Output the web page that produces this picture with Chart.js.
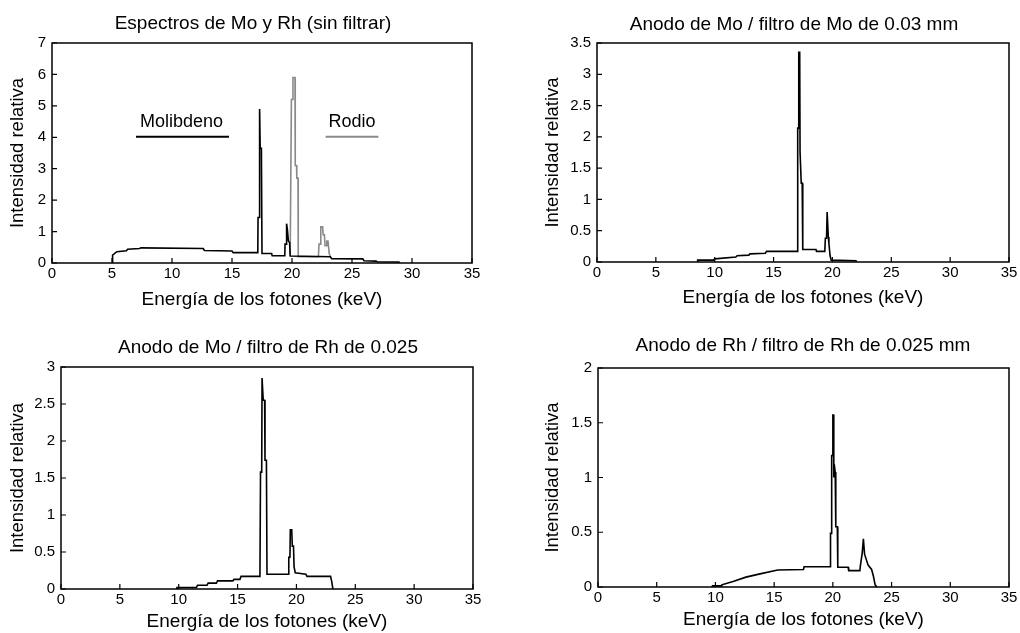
<!DOCTYPE html>
<html lang="es">
<head>
<meta charset="utf-8">
<title>Espectros de Mo y Rh</title>
<script src="https://cdn.jsdelivr.net/npm/chart.js@4.4.1/dist/chart.umd.min.js"></script>
<style>
  html, body { margin: 0; padding: 0; background: #fff; }
  body { width: 1020px; height: 633px; overflow: hidden; position: relative; }
  canvas { position: absolute; }
</style>
</head>
<body>
<canvas id="g-sin-filtro" width="506" height="316" style="left:0;top:0"></canvas>
<canvas id="g-mo-mo" width="508" height="316" style="left:540px;top:0"></canvas>
<canvas id="g-mo-rh" width="536" height="317" style="left:0;top:316px"></canvas>
<canvas id="g-rh-rh" width="526" height="317" style="left:540px;top:316px"></canvas>
<script>
// Datos (energía en keV, intensidad relativa)
const ticksEnergia = [0, 5, 10, 15, 20, 25, 30, 35];

// Espectros sin filtrar
const energiaMo = [5, 5.05, 5.4, 6.2, 6.3, 7.3, 7.4, 12.6, 12.7, 15.0, 15.1, 17.15, 17.17, 17.25, 17.27, 17.33, 17.35, 17.45, 17.5, 18.3, 18.35, 19.4, 19.42, 19.5, 19.52, 19.58, 19.62, 19.7, 19.8, 19.85, 23.2, 23.3, 25.9, 26.0, 27.0, 27.1, 28.9, 29];
const intensidadMo = [0, 0.25, 0.36, 0.39, 0.44, 0.46, 0.48, 0.46, 0.4, 0.38, 0.33, 0.33, 1.45, 1.45, 4.9, 4.9, 3.65, 3.65, 0.3, 0.3, 0.23, 0.23, 0.6, 0.6, 1.25, 1.25, 1.05, 0.7, 0.65, 0.22, 0.2, 0.14, 0.13, 0.07, 0.06, 0.04, 0.03, 0];
const energiaRh = [19.85, 19.9, 19.95, 20.05, 20.08, 20.25, 20.27, 20.38, 20.4, 20.5, 20.52, 22.2, 22.25, 22.35, 22.4, 22.55, 22.6, 22.7, 22.75, 22.85, 22.9, 23.0, 23.1, 23.2];
const intensidadRh = [0.22, 0.22, 5.2, 5.2, 5.9, 5.9, 3.1, 3.1, 2.7, 2.7, 0.2, 0.2, 0.6, 0.6, 1.15, 1.15, 0.9, 0.9, 0.55, 0.55, 0.7, 0.7, 0.3, 0.2];

// Anodo de Mo / filtro de Mo 0.03 mm
const energiaMoMo = [8.5, 8.55, 9.9, 10.0, 11.8, 11.9, 12.9, 13.0, 14.3, 14.4, 17.0, 17.03, 17.07, 17.12, 17.14, 17.22, 17.25, 17.3, 17.35, 17.43, 17.48, 18.6, 18.65, 19.35, 19.4, 19.5, 19.55, 19.6, 19.65, 19.7, 19.8, 19.9, 22.0, 22.05];
const intensidadMoMo = [0, 0.03, 0.03, 0.05, 0.08, 0.1, 0.11, 0.13, 0.14, 0.17, 0.17, 0.47, 2.14, 2.14, 3.35, 3.35, 1.76, 1.76, 1.26, 1.26, 0.2, 0.2, 0.17, 0.17, 0.38, 0.38, 0.8, 0.8, 0.4, 0.3, 0.1, 0.03, 0.02, 0];

// Anodo de Mo / filtro de Rh 0.025
const energiaMoRh = [9.8, 9.85, 11.5, 11.6, 12.4, 12.5, 13.2, 13.3, 14.6, 14.7, 15.2, 15.3, 16.9, 16.95, 17.05, 17.08, 17.15, 17.18, 17.3, 17.33, 17.45, 17.5, 19.3, 19.35, 19.45, 19.48, 19.6, 19.65, 19.75, 19.8, 19.9, 20.8, 20.9, 22.9, 23.0, 23.1];
const intensidadMoRh = [0, 0.02, 0.02, 0.05, 0.05, 0.08, 0.08, 0.11, 0.11, 0.13, 0.13, 0.17, 0.17, 1.58, 1.58, 2.85, 2.85, 2.55, 2.55, 1.74, 1.74, 0.2, 0.2, 0.43, 0.43, 0.8, 0.8, 0.58, 0.58, 0.3, 0.22, 0.2, 0.17, 0.17, 0.1, 0];

// Anodo de Rh / filtro de Rh 0.025 mm
const energiaRhRh = [9.7, 9.75, 10.5, 10.55, 11.5, 12.6, 13.8, 15.3, 17.5, 17.55, 19.78, 19.8, 19.88, 19.9, 19.98, 20.0, 20.06, 20.08, 20.12, 20.2, 20.25, 20.38, 20.42, 21.3, 21.35, 22.3, 22.35, 22.5, 22.6, 22.7, 22.85, 23.0, 23.3, 23.45, 23.6, 23.75];
const intensidadRhRh = [0, 0.01, 0.01, 0.02, 0.05, 0.09, 0.12, 0.155, 0.16, 0.185, 0.185, 0.49, 0.49, 1.2, 1.2, 1.57, 1.57, 1.0, 1.12, 1.05, 0.55, 0.55, 0.18, 0.18, 0.15, 0.15, 0.2, 0.31, 0.44, 0.3, 0.25, 0.2, 0.16, 0.1, 0.02, 0];

// Rótulos dentro del primer gráfico (en unidades de datos)
const rotulos = [
  { texto: 'Molibdeno', x: 10.8, y: 4.47, desde: 7.0, hasta: 14.75, yLinea: 4.02, color: '#000' },
  { texto: 'Rodio', x: 25.0, y: 4.47, desde: 22.8, hasta: 27.2, yLinea: 4.02, color: '#8a8a8a' }
];

const NEGRO = '#000';
const GRIS = '#8a8a8a';
const FUENTE = '"Liberation Sans", Arial, Helvetica, sans-serif';

Chart.defaults.font.family = FUENTE;
Chart.defaults.color = '#000';

// Marco de los ejes y marcas hacia adentro (estilo MATLAB)
const marcoEjes = {
  id: 'marcoEjes',
  afterDatasetsDraw(chart) {
    const { ctx, chartArea: a, scales: { x, y } } = chart;
    ctx.save();
    ctx.strokeStyle = '#000';
    ctx.lineWidth = 1.5;
    ctx.strokeRect(a.left, a.top, a.right - a.left, a.bottom - a.top);
    ctx.lineWidth = 1.2;
    ctx.beginPath();
    x.ticks.forEach(t => {
      const px = x.getPixelForValue(t.value);
      ctx.moveTo(px, a.bottom);
      ctx.lineTo(px, a.bottom - 5);
    });
    y.ticks.forEach(t => {
      const py = y.getPixelForValue(t.value);
      ctx.moveTo(a.left, py);
      ctx.lineTo(a.left + 5, py);
    });
    ctx.stroke();
    ctx.restore();
  }
};

// Textos "Molibdeno" / "Rodio" con su línea
const rotulosSeries = {
  id: 'rotulosSeries',
  afterDatasetsDraw(chart, args, opts) {
    if (!opts.items) return;
    const { ctx, scales: { x, y } } = chart;
    ctx.save();
    opts.items.forEach(r => {
      ctx.fillStyle = '#000';
      ctx.font = '18px ' + FUENTE;
      ctx.textAlign = 'center';
      ctx.textBaseline = 'middle';
      ctx.fillText(r.texto, x.getPixelForValue(r.x), y.getPixelForValue(r.y));
      ctx.strokeStyle = r.color;
      ctx.lineWidth = 2;
      ctx.beginPath();
      ctx.moveTo(x.getPixelForValue(r.desde), y.getPixelForValue(r.yLinea));
      ctx.lineTo(x.getPixelForValue(r.hasta), y.getPixelForValue(r.yLinea));
      ctx.stroke();
    });
    ctx.restore();
  }
};

function serie(energias, intensidades, color) {
  return {
    data: energias.map((e, i) => ({ x: e, y: intensidades[i] })),
    borderColor: color,
    borderWidth: 1.6,
    pointRadius: 0,
    tension: 0,
    fill: false
  };
}

function crearGrafico(id, titulo, yMax, series, ajuste, items) {
  return new Chart(document.getElementById(id), {
    type: 'line',
    data: { datasets: series },
    options: {
      responsive: false,
      animation: false,
      events: [],
      layout: { padding: 0 },
      plugins: {
        legend: { display: false },
        tooltip: { enabled: false },
        title: {
          display: true,
          text: titulo,
          color: '#000',
          font: { size: 19, weight: 'normal' },
          padding: { top: ajuste.tituloArriba, bottom: ajuste.tituloAbajo }
        },
        rotulosSeries: { items: items }
      },
      scales: {
        x: {
          type: 'linear',
          min: ticksEnergia[0],
          max: ticksEnergia[ticksEnergia.length - 1],
          afterBuildTicks: s => { s.ticks = ticksEnergia.map(v => ({ value: v })); },
          ticks: { padding: 2, font: { size: 15 }, maxRotation: 0, autoSkip: false },
          grid: { display: false, drawTicks: false },
          border: { display: false },
          title: {
            display: true,
            text: 'Energía de los fotones (keV)',
            font: { size: 19 },
            padding: { top: 0, bottom: ajuste.xTituloAbajo }
          },
          afterFit: s => { s.height = ajuste.altoX; }
        },
        y: {
          type: 'linear',
          min: 0,
          max: yMax,
          ticks: {
            stepSize: yMax > 4 ? 1 : 0.5,
            padding: 6,
            font: { size: 15 },
            callback: v => String(Number(v.toFixed(1)))
          },
          grid: { display: false, drawTicks: false },
          border: { display: false },
          title: {
            display: true,
            text: 'Intensidad relativa',
            font: { size: 18.5 },
            padding: { top: ajuste.yTitulo, bottom: 0 }
          },
          afterFit: s => { s.width = ajuste.anchoY; }
        },
        // eje vacío a la derecha: sólo reserva margen para que el título quede centrado
        margen: {
          type: 'linear',
          position: 'right',
          ticks: { display: false },
          grid: { display: false, drawTicks: false },
          border: { display: false },
          afterFit: s => { s.width = ajuste.derecha; }
        }
      }
    },
    plugins: [marcoEjes, rotulosSeries]
  });
}

crearGrafico('g-sin-filtro', 'Espectros de Mo y Rh (sin filtrar)', 7,
  [serie(energiaMo, intensidadMo, NEGRO), serie(energiaRh, intensidadRh, GRIS)],
  { derecha: 34, tituloArriba: 12, tituloAbajo: 8.2, altoX: 53, xTituloAbajo: 4.6, anchoY: 52, yTitulo: 6.9 },
  rotulos);

crearGrafico('g-mo-mo', 'Anodo de Mo / filtro de Mo de 0.03 mm', 3.5,
  [serie(energiaMoMo, intensidadMoMo, NEGRO)],
  { derecha: 39, tituloArriba: 13, tituloAbajo: 7.2, altoX: 54, xTituloAbajo: 6.6, anchoY: 57, yTitulo: 1.9 });

crearGrafico('g-mo-rh', 'Anodo de Mo / filtro de Rh de 0.025', 3,
  [serie(energiaMoRh, intensidadMoRh, NEGRO)],
  { derecha: 63, tituloArriba: 20, tituloAbajo: 8.2, altoX: 44, xTituloAbajo: 0, anchoY: 61, yTitulo: 6.9 });

crearGrafico('g-rh-rh', 'Anodo de Rh / filtro de Rh de 0.025 mm', 2,
  [serie(energiaRhRh, intensidadRhRh, NEGRO)],
  { derecha: 57, tituloArriba: 18.6, tituloAbajo: 10.6, altoX: 46, xTituloAbajo: 1.6, anchoY: 58, yTitulo: 1.9 });
</script>
</body>
</html>
